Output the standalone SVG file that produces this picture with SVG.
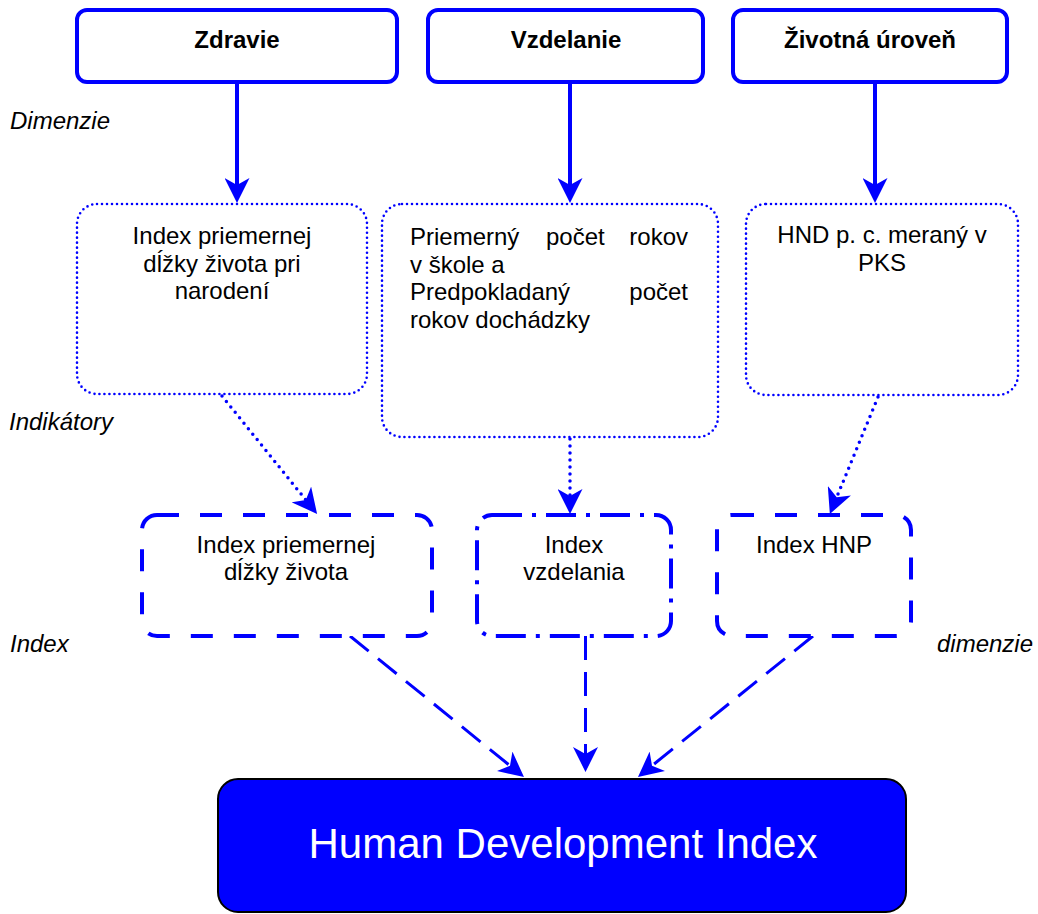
<svg xmlns="http://www.w3.org/2000/svg" width="1038" height="914" viewBox="0 0 1038 914">
<defs>
<marker id="arr" markerUnits="userSpaceOnUse" viewBox="0 0 25 25" markerWidth="25" markerHeight="25" refX="7" refY="12.5" orient="auto">
<path d="M0,0 L25,12.5 L0,25 L7,12.5 Z" fill="#0000FF"/>
</marker>
<style>
text{font-family:"Liberation Sans",Arial,sans-serif;font-size:24px;fill:#000}
.b{font-weight:bold;text-anchor:middle}
.m{text-anchor:middle}
.lbl{font-style:italic}
.top{fill:#fff;stroke:#0000FF;stroke-width:4}
.dot{fill:#fff;stroke:#0000FF;stroke-width:2.6;stroke-dasharray:0 5;stroke-linecap:round}
.dash{fill:#fff;stroke:#0000FF;stroke-width:4;stroke-dasharray:22 21}
.dashdot{fill:#fff;stroke:#0000FF;stroke-width:4;stroke-dasharray:30 10 4 10}
.solid{stroke:#0000FF;stroke-width:4;fill:none}
.dotc{stroke:#0000FF;stroke-width:3.5;fill:none;stroke-dasharray:0 7;stroke-linecap:round}
.dashc{stroke:#0000FF;stroke-width:3;fill:none;stroke-dasharray:24 12}
</style>
</defs>
<rect width="1038" height="914" fill="#fff"/>

<g id="labels">
<text class="lbl" x="10" y="129">Dimenzie</text>
<text class="lbl" x="9" y="430">Indikátory</text>
<text class="lbl" x="10" y="652">Index</text>
<text class="lbl" x="1033" y="652" text-anchor="end">dimenzie</text>
</g>

<g id="connectors">
<line class="solid" x1="237" y1="82" x2="237" y2="185" marker-end="url(#arr)"/>
<line class="solid" x1="570" y1="82" x2="570" y2="185" marker-end="url(#arr)"/>
<line class="solid" x1="875" y1="82" x2="875" y2="185" marker-end="url(#arr)"/>
<line class="dotc" x1="222" y1="396" x2="305.8" y2="499.9" marker-end="url(#arr)"/>
<line class="dotc" x1="570" y1="439" x2="570" y2="496" marker-end="url(#arr)"/>
<line class="dotc" x1="878" y1="397" x2="836.7" y2="497.3" marker-end="url(#arr)"/>
<line class="dashc" x1="350" y1="636" x2="510" y2="765.7" marker-end="url(#arr)"/>
<line class="dashc" x1="585.5" y1="636" x2="585.5" y2="754" marker-end="url(#arr)"/>
<line class="dashc" x1="813" y1="636" x2="652" y2="765.7" marker-end="url(#arr)"/>
</g>

<g id="zdravie">
<rect class="top" x="77" y="10" width="320" height="72" rx="10"/>
<text class="b" x="237" y="48">Zdravie</text>
</g>
<g id="vzdelanie">
<rect class="top" x="428" y="10" width="275" height="72" rx="10"/>
<text class="b" x="566" y="48">Vzdelanie</text>
</g>
<g id="zivotna">
<rect class="top" x="733" y="10" width="274" height="72" rx="10"/>
<text class="b" x="870" y="48">Životná úroveň</text>
</g>

<g id="ind1">
<rect class="dot" x="77" y="204" width="290" height="190" rx="20"/>
<text class="m" x="222" y="244">Index priemernej</text>
<text class="m" x="222" y="271.5">dĺžky života pri</text>
<text class="m" x="222" y="299">narodení</text>
</g>
<g id="ind2">
<rect class="dot" x="382" y="204" width="336" height="233" rx="20"/>
<text x="410" y="245">Priemerný</text>
<text x="546" y="245">počet</text>
<text x="688" y="245" text-anchor="end">rokov</text>
<text x="410" y="272.5">v škole a</text>
<text x="410" y="300">Predpokladaný</text>
<text x="688" y="300" text-anchor="end">počet</text>
<text x="410" y="327.5">rokov dochádzky</text>
</g>
<g id="ind3">
<rect class="dot" x="746" y="204" width="272" height="191" rx="20"/>
<text class="m" x="882" y="243">HND p. c. meraný v</text>
<text class="m" x="882" y="270.5">PKS</text>
</g>

<g id="idx1">
<rect class="dash" x="142" y="515" width="290" height="121" rx="15"/>
<text class="m" x="286" y="553">Index priemernej</text>
<text class="m" x="286" y="580">dĺžky života</text>
</g>
<g id="idx2">
<rect class="dashdot" x="477" y="515" width="194" height="121" rx="15"/>
<text class="m" x="574" y="553">Index</text>
<text class="m" x="574" y="580">vzdelania</text>
</g>
<g id="idx3">
<rect class="dash" x="717" y="515" width="194" height="121" rx="15"/>
<text class="m" x="814" y="553">Index HNP</text>
</g>

<g id="hdi">
<rect x="218" y="779" width="688" height="133" rx="20" fill="#0000FF" stroke="#000" stroke-width="2"/>
<text class="m" x="563" y="858" style="font-size:42px;fill:#fff">Human Development Index</text>
</g>
</svg>
